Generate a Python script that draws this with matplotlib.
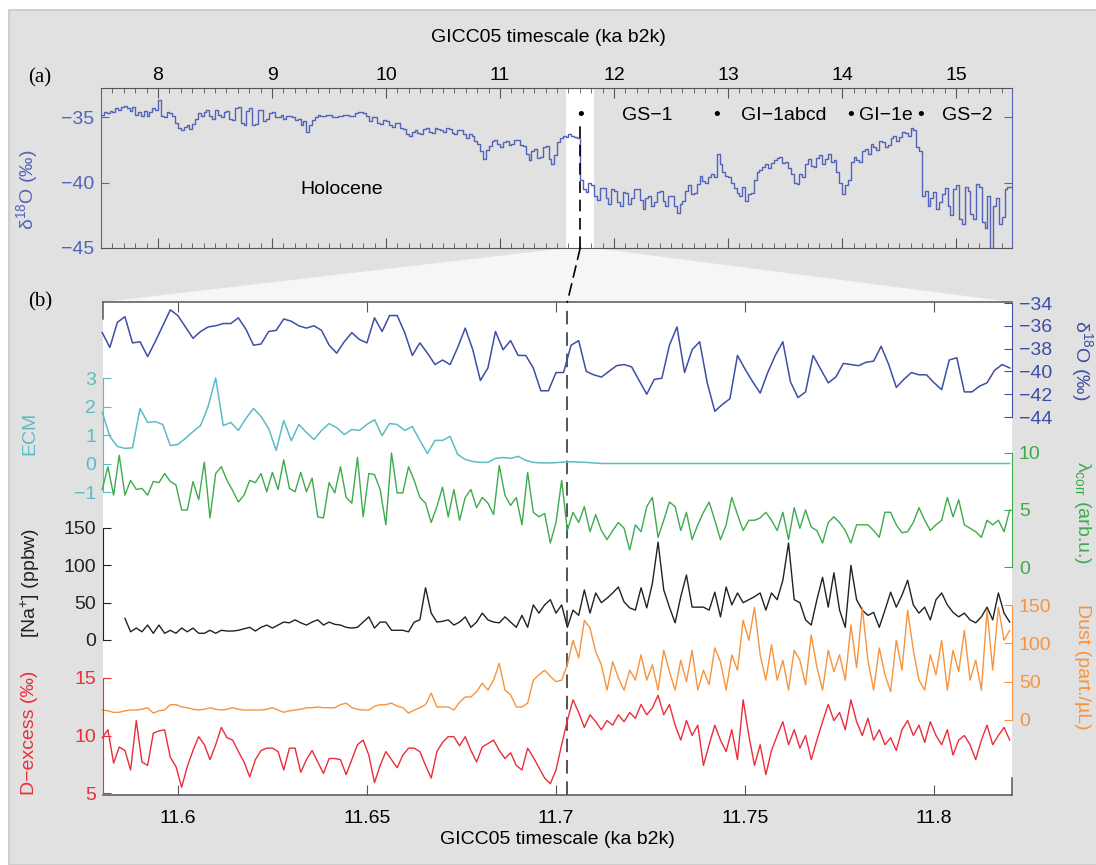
import numpy as np
import matplotlib
matplotlib.use('Agg')
import matplotlib.pyplot as plt
from matplotlib.patches import Rectangle, Polygon, ConnectionPatch
from matplotlib.ticker import MultipleLocator, FuncFormatter

plt.rcParams['font.family'] = ['Liberation Sans', 'DejaVu Sans']
plt.rcParams['mathtext.fontset'] = 'custom'
plt.rcParams['mathtext.rm'] = 'Liberation Sans'
plt.rcParams['mathtext.it'] = 'Liberation Sans:italic'
plt.rcParams['font.size'] = 14

# ---- panel (a): long d18O record, 0.025 ka steps from 7.500 ka ----
age_a = np.round(np.arange(7.50, 15.49, 0.025), 3)
d18o_a = [
    -34.8, -34.6, -34.7, -34.5, -34.6, -34.3, -34.4, -34.2,
    -34.1, -34.3, -34.5, -34.2, -34.8, -34.6, -34.9, -34.5,
    -34.9, -34.6, -34.3, -34.4, -33.7, -34.9, -35.0, -34.6,
    -34.7, -34.9, -35.4, -35.8, -36.0, -35.7, -35.6, -35.9,
    -35.5, -35.1, -34.7, -34.9, -34.6, -34.4, -34.9, -35.1,
    -34.4, -34.8, -35.0, -34.6, -34.5, -35.1, -35.2, -34.3,
    -34.2, -35.4, -35.6, -34.5, -34.3, -35.6, -35.5, -34.4,
    -34.4, -35.3, -35.1, -34.7, -34.6, -35.0, -35.0, -34.8,
    -35.1, -34.9, -34.9, -35.0, -35.2, -35.1, -35.6, -35.3,
    -36.1, -35.6, -35.2, -35.0, -34.8, -34.9, -34.9, -34.8,
    -34.8, -35.0, -35.0, -34.9, -34.9, -34.8, -34.8, -34.9,
    -34.9, -34.7, -34.6, -34.6, -34.7, -34.9, -35.3, -35.0,
    -35.0, -35.4, -35.5, -35.2, -35.3, -35.6, -35.7, -35.4,
    -35.4, -35.8, -35.9, -36.3, -36.4, -36.1, -36.0, -36.2,
    -36.3, -35.9, -35.8, -36.1, -36.2, -35.8, -35.9, -36.0,
    -36.1, -35.8, -35.9, -36.2, -36.3, -36.0, -36.0, -36.3,
    -36.6, -36.3, -36.4, -36.8, -37.0, -37.6, -38.2, -37.5,
    -37.2, -36.8, -36.7, -37.0, -37.3, -36.9, -36.8, -37.1,
    -37.0, -36.7, -36.7, -37.1, -37.2, -37.8, -38.3, -37.6,
    -37.4, -38.1, -38.0, -37.3, -37.2, -38.2, -38.6, -37.9,
    -36.9, -36.6, -36.4, -36.5, -36.3, -36.4, -36.5, -36.6,
    -39.8, -40.5, -40.7, -40.0, -40.2, -41.0, -41.3, -40.4,
    -40.4, -41.2, -41.6, -40.5, -40.6, -41.5, -41.8, -40.7,
    -40.8, -41.6, -41.2, -40.5, -40.5, -41.3, -42.0, -41.2,
    -41.0, -41.8, -41.5, -40.7, -40.6, -41.4, -41.8, -41.0,
    -41.0, -41.8, -42.3, -41.6, -41.4, -40.6, -40.2, -40.9,
    -40.8, -40.1, -39.5, -39.9, -40.0, -39.6, -39.3, -39.6,
    -37.8, -38.6, -39.2, -39.5, -39.6, -40.0, -40.4, -40.8,
    -41.0, -40.3, -41.4, -40.9, -40.8, -39.8, -39.2, -39.0,
    -38.8, -38.6, -38.9, -38.5, -38.3, -38.1, -38.0, -38.5,
    -38.4, -38.9, -39.3, -40.0, -40.1, -39.3, -39.6, -38.6,
    -38.2, -38.7, -38.8, -38.1, -37.9, -38.6, -38.2, -37.8,
    -38.4, -38.3, -39.2, -40.0, -40.9, -40.2, -39.8, -38.4,
    -38.0, -38.3, -38.4, -37.6, -37.4, -37.8, -37.0, -37.3,
    -37.5, -36.8, -36.9, -37.3, -37.1, -36.6, -36.4, -36.8,
    -36.5, -36.1, -36.2, -36.4, -35.8, -36.0, -37.3, -37.6,
    -41.0, -40.6, -41.8, -41.2, -40.7, -42.0, -41.5, -40.9,
    -40.4, -41.8, -42.5, -40.5, -40.2, -42.8, -43.2, -40.3,
    -40.6, -42.4, -42.8, -40.1, -40.3, -43.0, -43.5, -41.0,
    -45.0, -41.8, -41.2, -43.2, -42.6, -40.5, -40.3, -40.3,
]
a_ticks = [8, 9, 10, 11, 12, 13, 14, 15]
zoom_window = (11.58, 11.82)
ys_onset = 11.703
events = [(11.703, '•'), (12.29, 'GS−1'), (12.896, '•'), (13.49, 'GI−1abcd'),
          (14.075, '•'), (14.38, 'GI−1e'), (14.692, '•'), (15.10, 'GS−2')]

# ---- panel (b): high resolution records across the transition ----
d18o_b = [
    -36.6, -37.9, -35.7, -35.2, -37.5, -37.4, -38.7, -37.4, -36.0, -34.6,
    -35.1, -36.1, -37.1, -36.5, -36.1, -36.0, -35.8, -35.8, -35.3, -36.3,
    -37.7, -37.6, -36.5, -36.4, -35.4, -35.6, -36.0, -36.2, -36.0, -36.4,
    -37.7, -38.4, -37.4, -36.6, -37.2, -37.5, -35.3, -36.5, -35.1, -35.1,
    -36.6, -38.6, -37.5, -38.4, -39.4, -39.0, -39.4, -37.9, -36.2, -38.1,
    -40.8, -39.7, -36.5, -38.1, -37.3, -38.6, -38.6, -39.7, -41.7, -41.7,
    -40.1, -40.1, -37.7, -37.3, -40.0, -40.3, -40.5, -40.0, -39.5, -39.4,
    -39.6, -40.8, -42.0, -40.7, -40.6, -37.7, -36.1, -40.1, -38.1, -37.4,
    -41.0, -43.5, -42.9, -42.4, -38.6, -39.8, -40.9, -41.9, -40.1, -38.6,
    -37.4, -40.9, -42.3, -41.8, -38.6, -39.8, -41.0, -40.5, -39.3, -39.4,
    -39.5, -39.2, -39.1, -37.8, -39.4, -41.4, -40.7, -40.1, -40.3, -40.3,
    -41.0, -41.6, -39.0, -38.8, -41.8, -41.8, -41.3, -41.0, -39.9, -39.4,
    -39.7,
]
ecm = [
    1.8, 0.95, 0.6, 0.53, 0.55, 1.93, 1.44, 1.47, 1.37, 0.63,
    0.67, 0.88, 1.12, 1.33, 2.0, 3.0, 1.33, 1.44, 1.16, 1.58,
    1.93, 1.65, 1.23, 0.46, 1.51, 0.8, 1.37, 1.09, 0.84, 1.16,
    1.40, 1.26, 1.02, 1.19, 1.16, 1.37, 1.54, 0.98, 1.40, 1.37,
    1.16, 1.30, 0.81, 0.35, 0.81, 0.81, 0.95, 0.32, 0.14, 0.07,
    0.04, 0.04, 0.18, 0.21, 0.18, 0.25, 0.11, 0.04, 0.02, 0.02,
    0.03, 0.05, 0.06, 0.05, 0.04, 0.02, 0.0, 0.0, 0.0, 0.0,
] + [0.0] * 51
lam = [
    6.8, 8.8, 6.3, 9.8, 6.3, 7.6, 6.8, 6.9, 6.3, 7.5,
    7.4, 8.2, 7.5, 7.2, 5.0, 5.0, 7.5, 5.9, 9.2, 4.3,
    8.2, 8.8, 7.6, 6.7, 5.7, 6.3, 7.6, 7.4, 8.2, 6.6,
    8.3, 6.8, 9.4, 6.9, 6.6, 8.3, 6.6, 7.8, 4.4, 4.3,
    7.4, 6.5, 8.8, 6.1, 5.6, 9.6, 4.4, 8.2, 8.1, 6.8,
    3.7, 10.0, 6.5, 6.5, 8.8, 7.6, 6.1, 5.6, 3.9, 5.3,
    7.0, 4.4, 6.8, 4.1, 6.1, 6.8, 5.2, 6.1, 5.6, 4.6,
    8.9, 6.3, 5.4, 6.1, 3.7, 8.3, 4.8, 4.4, 4.7, 2.1,
    3.9, 7.6, 3.2, 4.8, 3.9, 5.3, 3.1, 4.6, 3.2, 2.4,
    3.2, 3.9, 3.4, 1.5, 3.7, 3.1, 5.3, 6.1, 2.6, 4.1,
    5.7, 5.3, 3.2, 4.8, 2.4, 3.7, 4.8, 5.7, 4.1, 2.4,
    3.7, 6.1, 4.6, 3.2, 4.1, 4.1, 4.3, 4.8, 4.1, 3.2,
    4.8, 2.4, 5.2, 3.4, 5.0, 3.5, 3.2, 2.1, 3.9, 4.4,
    3.9, 3.2, 2.1, 3.7, 3.7, 3.7, 3.2, 2.6, 4.8, 4.8,
    3.7, 3.0, 3.1, 3.9, 5.2, 4.1, 3.2, 3.7, 4.1, 6.1,
    4.4, 5.9, 3.7, 3.4, 3.1, 2.6, 4.1, 3.7, 4.1, 3.1,
    5.0,
]
na = [
    np.nan, np.nan, np.nan, np.nan, 29, 11, 16, 11, 20, 9,
    20, 9, 13, 9, 16, 11, 16, 9, 9, 13,
    9, 13, 12, 12, 13, 15, 17, 12, 17, 20,
    16, 20, 24, 23, 27, 23, 20, 24, 27, 20,
    24, 21, 20, 17, 16, 17, 24, 31, 16, 24,
    24, 13, 13, 13, 11, 24, 27, 70, 36, 24,
    25, 27, 20, 24, 31, 17, 24, 36, 27, 24,
    23, 31, 24, 17, 33, 17, 47, 36, 47, 54,
    36, 47, 17, 40, 33, 67, 36, 63, 50, 56,
    63, 71, 51, 43, 40, 70, 43, 76, 131, 67,
    44, 23, 58, 87, 44, 44, 44, 40, 64, 31,
    71, 47, 63, 50, 54, 58, 63, 40, 63, 54,
    80, 130, 54, 50, 27, 20, 54, 84, 44, 90,
    40, 17, 100, 54, 40, 33, 37, 17, 40, 64,
    44, 60, 80, 47, 36, 44, 27, 54, 63, 47,
    37, 31, 36, 27, 23, 31, 44, 27, 63, 36,
    24,
]
dust = [
    13, 12, 10, 10, 12, 13, 13, 14, 16, 9,
    12, 13, 20, 20, 17, 16, 14, 13, 14, 16,
    14, 13, 14, 16, 14, 13, 13, 13, 13, 14,
    16, 13, 10, 12, 13, 14, 16, 16, 17, 16,
    16, 16, 20, 22, 16, 14, 13, 13, 18, 20,
    20, 22, 18, 16, 9, 13, 16, 20, 35, 17,
    17, 17, 13, 23, 30, 30, 37, 48, 39, 52,
    74, 39, 33, 17, 17, 22, 52, 59, 65, 57,
    50, 52, 72, 104, 81, 130, 120, 89, 72, 39,
    76, 55, 39, 65, 52, 85, 52, 72, 39, 91,
    63, 39, 78, 50, 91, 39, 65, 46, 94, 76,
    39, 85, 65, 130, 104, 147, 85, 52, 98, 52,
    78, 39, 91, 78, 46, 111, 69, 39, 91, 63,
    85, 52, 124, 68, 147, 78, 39, 94, 59, 37,
    104, 65, 143, 91, 52, 39, 85, 59, 104, 39,
    91, 63, 117, 52, 78, 39, 143, 65, 147, 104,
    117,
]
dex = [
    9.8, 10.5, 7.6, 9.0, 8.7, 7.0, 11.3, 7.7, 7.4, 10.2,
    10.4, 10.5, 8.1, 7.3, 5.5, 7.3, 8.7, 9.9, 9.2, 7.9,
    9.2, 10.7, 9.8, 9.6, 8.6, 7.7, 6.4, 7.9, 8.7, 8.9,
    8.9, 8.6, 7.0, 8.9, 8.9, 6.8, 7.9, 8.7, 7.7, 6.7,
    8.0, 8.0, 7.9, 6.6, 7.9, 9.2, 9.6, 8.3, 5.9, 7.4,
    8.6, 7.9, 7.2, 8.3, 8.9, 8.9, 8.6, 7.4, 6.3, 8.6,
    9.4, 9.9, 9.9, 9.1, 9.9, 8.7, 7.7, 9.0, 9.3, 9.6,
    8.7, 8.0, 8.5, 7.4, 7.0, 8.9, 8.1, 7.2, 6.3, 5.8,
    7.0, 9.2, 11.3, 13.1, 12.0, 10.7, 11.8, 11.2, 10.5, 11.3,
    10.9, 11.8, 11.2, 12.0, 11.5, 12.7, 11.8, 12.4, 13.5, 11.8,
    12.7, 10.9, 9.6, 11.3, 10.0, 10.9, 7.4, 9.2, 10.9, 9.6,
    8.6, 10.5, 7.9, 13.1, 10.0, 7.4, 9.2, 6.6, 8.7, 10.0,
    11.2, 9.2, 10.5, 8.9, 10.0, 7.9, 9.6, 11.2, 12.7, 11.3,
    12.0, 10.5, 13.1, 11.2, 10.0, 11.5, 9.6, 10.5, 9.2, 9.8,
    8.7, 10.5, 11.3, 10.0, 10.9, 9.4, 11.2, 10.0, 9.2, 10.5,
    8.3, 9.6, 10.0, 9.2, 7.9, 9.6, 10.9, 9.2, 10.0, 10.7,
    9.6,
]
t_coarse = np.linspace(11.58, 11.82, len(d18o_b))
t_fine = np.linspace(11.58, 11.82, len(lam))

C_A = '#5364b8'
C_D18 = '#3d4ea6'
C_ECM = '#5bbcc5'
C_LAM = '#3dab4d'
C_NA = '#222222'
C_DUST = '#f7943d'
C_DEX = '#ec2d3a'
C_AX = '#555555'

W, H = 1096, 865
fig = plt.figure(figsize=(W / 100, H / 100), dpi=100)
fig.patch.set_facecolor('white')


def box(l, t, r, b):
    return [l / W, 1 - b / H, (r - l) / W, (b - t) / H]


def fpos(x, y):
    return x / W, 1 - y / H


fig.patches.append(Rectangle((9 / W, 0), 1, 1 - 10 / H, transform=fig.transFigure,
                             facecolor='#e1e1e1', edgecolor='#c8c8c8', lw=1.2, zorder=-10))

# ---------------- panel (a) ----------------
ax_a = fig.add_axes(box(101, 88, 1012, 248))
ax_a.set_facecolor('none')
ax_a.axvspan(*zoom_window, color='white', lw=0, zorder=0)
ax_a.step(np.append(age_a, age_a[-1] + 0.025), np.append(d18o_a, d18o_a[-1]),
          where='post', color=C_A, lw=1.0, zorder=2)
ax_a.axvline(ys_onset, ymax=0.78, color='black', lw=1.2, dashes=(7, 4), zorder=3)
ax_a.set_xlim(7.5, 15.49)
ax_a.set_ylim(-45, -32.75)
ax_a.set_xticks(a_ticks)
ax_a.xaxis.set_minor_locator(MultipleLocator(0.1))
ax_a.tick_params(axis='x', which='both', top=True, bottom=True, labeltop=True,
                 labelbottom=False, direction='in', color=C_AX, pad=3)
ax_a.tick_params(axis='x', which='major', length=7)
ax_a.tick_params(axis='x', which='minor', length=3.5)
ax_a.set_yticks([-45, -40, -35])
ax_a.tick_params(axis='y', left=True, right=True, direction='in', length=6,
                 color=C_A, labelcolor=C_A, pad=5)
for s in ('top', 'bottom'):
    ax_a.spines[s].set_color(C_AX)
for s in ('left', 'right'):
    ax_a.spines[s].set_color(C_A)
for x, lab in events:
    ax_a.text(x, -34.85, lab, ha='center', va='center', fontsize=14)
ax_a.text(9.61, -40.5, 'Holocene', ha='center', va='center', fontsize=14)

fig.text(*fpos(548, 38), 'GICC05 timescale (ka b2k)', ha='center', va='center')
fig.text(*fpos(27, 190), 'δ$^{18}$O (‰)', ha='center', va='center', rotation=90, color=C_A)
fig.text(*fpos(40, 78), '(a)', ha='center', va='center', family='Liberation Serif', fontsize=15)
fig.text(*fpos(40, 302), '(b)', ha='center', va='center', family='Liberation Serif', fontsize=15)

# ---------------- panel (b) ----------------
ax_b = fig.add_axes(box(103, 302, 1012, 795))
ax_b.set_facecolor('white')
ax_b.set_xlim(11.5802, 11.8206)
ax_b.set_ylim(0, 1)
ax_b.set_yticks([])
ax_b.xaxis.set_major_locator(MultipleLocator(0.05))
ax_b.xaxis.set_major_formatter(FuncFormatter(lambda v, p: '%g' % round(v, 2)))
ax_b.tick_params(axis='x', top=True, bottom=True, direction='in', length=7,
                 color=C_AX, pad=11)
for s in ax_b.spines.values():
    s.set_color(C_AX)
    s.set_linewidth(1.1)
ax_b.spines['left'].set_bounds(0.965, 1)
ax_b.spines['right'].set_bounds(0, 0.035)
ax_b.axvline(ys_onset, color=C_AX, lw=1.4, dashes=(7, 4))
fig.text(*fpos(557, 840), 'GICC05 timescale (ka b2k)', ha='center', va='center')


def band(t, b, side, color, lim, ticks):
    ax = fig.add_axes(box(103, t, 1012, b), sharex=ax_b)
    ax.set_facecolor('none')
    for s in ax.spines.values():
        s.set_visible(False)
    ax.spines[side].set_visible(True)
    ax.spines[side].set_color(color)
    ax.tick_params(axis='x', which='both', bottom=False, top=False,
                   labelbottom=False, labeltop=False)
    ax.set_ylim(*lim)
    ax.set_yticks(ticks)
    if side == 'right':
        ax.yaxis.tick_right()
    ax.tick_params(axis='y', direction='in', length=6, color=color,
                   labelcolor=color, pad=5)
    return ax


ax_d18 = band(303, 417, 'right', C_D18, (-44, -34), [-44, -42, -40, -38, -36, -34])
ax_ecm = band(378, 492, 'left', C_ECM, (-1, 3), [-1, 0, 1, 2, 3])
ax_lam = band(453, 567, 'right', C_LAM, (0, 10), [0, 5, 10])
ax_na = band(528, 640, 'left', C_NA, (0, 150), [0, 50, 100, 150])
ax_dust = band(605, 720, 'right', C_DUST, (0, 150), [0, 50, 100, 150])
ax_dex = band(678, 793, 'left', C_DEX, (5, 15), [5, 10, 15])

ax_d18.plot(t_coarse, d18o_b, color=C_D18, lw=1.1, clip_on=False)
ax_ecm.plot(t_coarse, ecm, color=C_ECM, lw=1.1, clip_on=False)
ax_lam.plot(t_fine, lam, color=C_LAM, lw=1.0, clip_on=False)
ax_na.plot(t_fine, na, color=C_NA, lw=1.0, clip_on=False)
ax_dust.plot(t_fine, dust, color=C_DUST, lw=1.0, clip_on=False)
ax_dex.plot(t_fine, dex, color=C_DEX, lw=1.0, clip_on=False)

fig.text(*fpos(30, 433), 'ECM', ha='center', va='center', rotation=90, color=C_ECM)
fig.text(*fpos(30, 583), '[Na$^{+}$] (ppbw)', ha='center', va='center', rotation=90, color=C_NA)
fig.text(*fpos(30, 733), 'D−excess (‰)', ha='center', va='center', rotation=90, color=C_DEX)
fig.text(*fpos(1082, 360), 'δ$^{18}$O (‰)', ha='center', va='center', rotation=270, color=C_D18)
fig.text(*fpos(1082, 513), 'λ$_{\\rm corr}$ (arb.u.)', ha='center', va='center', rotation=270, color=C_LAM)
fig.text(*fpos(1082, 667), 'Dust (part./µL)', ha='center', va='center', rotation=270, color=C_DUST)

# zoom wedge and dashed connector between the panels
to_fig = fig.transFigure.inverted()
corners = [ax_a.transData.transform((zoom_window[0], -45)),
           ax_a.transData.transform((zoom_window[1], -45)),
           ax_b.transData.transform((ax_b.get_xlim()[1], 1)),
           ax_b.transData.transform((ax_b.get_xlim()[0], 1))]
fig.patches.append(Polygon(to_fig.transform(np.array(corners)), closed=True,
                           transform=fig.transFigure, facecolor='#f6f6f6',
                           edgecolor='none', zorder=-5))
con = ConnectionPatch(xyA=(ys_onset, -45), coordsA=ax_a.transData,
                      xyB=(ys_onset, 1), coordsB=ax_b.transData,
                      color='black', lw=1.2, linestyle=(0, (7, 4)))
fig.add_artist(con)

fig.savefig('out.png', dpi=100)
